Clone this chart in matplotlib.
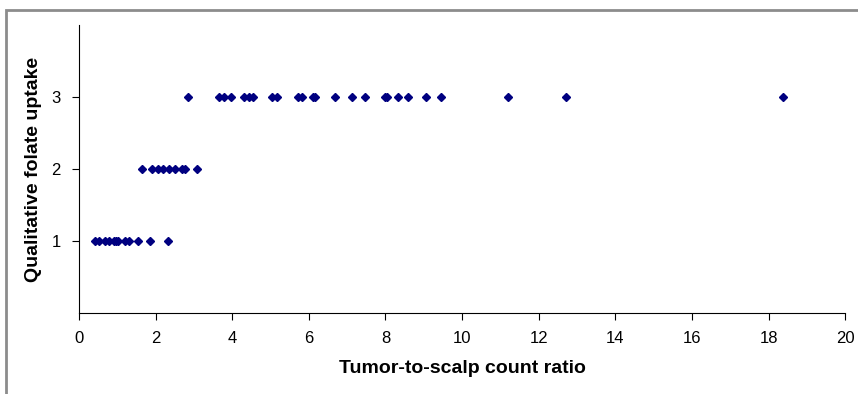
import matplotlib.pyplot as plt
from matplotlib.lines import Line2D

# qualitative folate uptake levels vs tumor-to-scalp count ratio
ratio_1 = [0.42, 0.52, 0.67, 0.78, 0.91, 0.97, 1.02, 1.19, 1.30, 1.54, 1.85, 2.33]
ratio_2 = [1.64, 1.92, 2.06, 2.19, 2.35, 2.51, 2.68, 2.77, 3.07]
ratio_3 = [2.85, 3.66, 3.79, 3.97, 4.31, 4.44, 4.54, 5.04, 5.17, 5.72, 5.82,
           6.10, 6.16, 6.68, 7.13, 7.47, 7.99, 8.04, 8.33, 8.60, 9.05, 9.45,
           11.2, 12.72, 18.38]
levels = [1, 2, 3]
xticks = list(range(0, 21, 2))

plt.rcParams['font.family'] = ['Liberation Sans', 'DejaVu Sans']

fig = plt.figure(figsize=(8.58, 3.94), dpi=100)
ax = fig.add_axes([0.092, 0.2056, 0.893, 0.731])

for lvl, xs in zip(levels, [ratio_1, ratio_2, ratio_3]):
    ax.plot(xs, [lvl] * len(xs), linestyle='none', marker='D',
            markersize=4.3, color='#000080')

ax.set_xlim(0, 20)
ax.set_ylim(0, 4)
ax.set_xticks(xticks)
ax.set_yticks(levels)
ax.spines['top'].set_visible(False)
ax.spines['right'].set_visible(False)
ax.tick_params(direction='out', length=5, labelsize=12, pad=8)
ax.set_xlabel('Tumor-to-scalp count ratio', fontsize=14, fontweight='bold', labelpad=10)
ax.set_ylabel('Qualitative folate uptake', fontsize=14, fontweight='bold', labelpad=7)

# gray frame of the original figure (top and left edges)
top = 1 - 9.5 / 394
left = 5.5 / 858
fig.add_artist(Line2D([left, left, 0.999], [0, top, top], transform=fig.transFigure,
                      color='#8c8c8c', linewidth=2, solid_joinstyle='miter'))

fig.savefig('out.png', dpi=100)
